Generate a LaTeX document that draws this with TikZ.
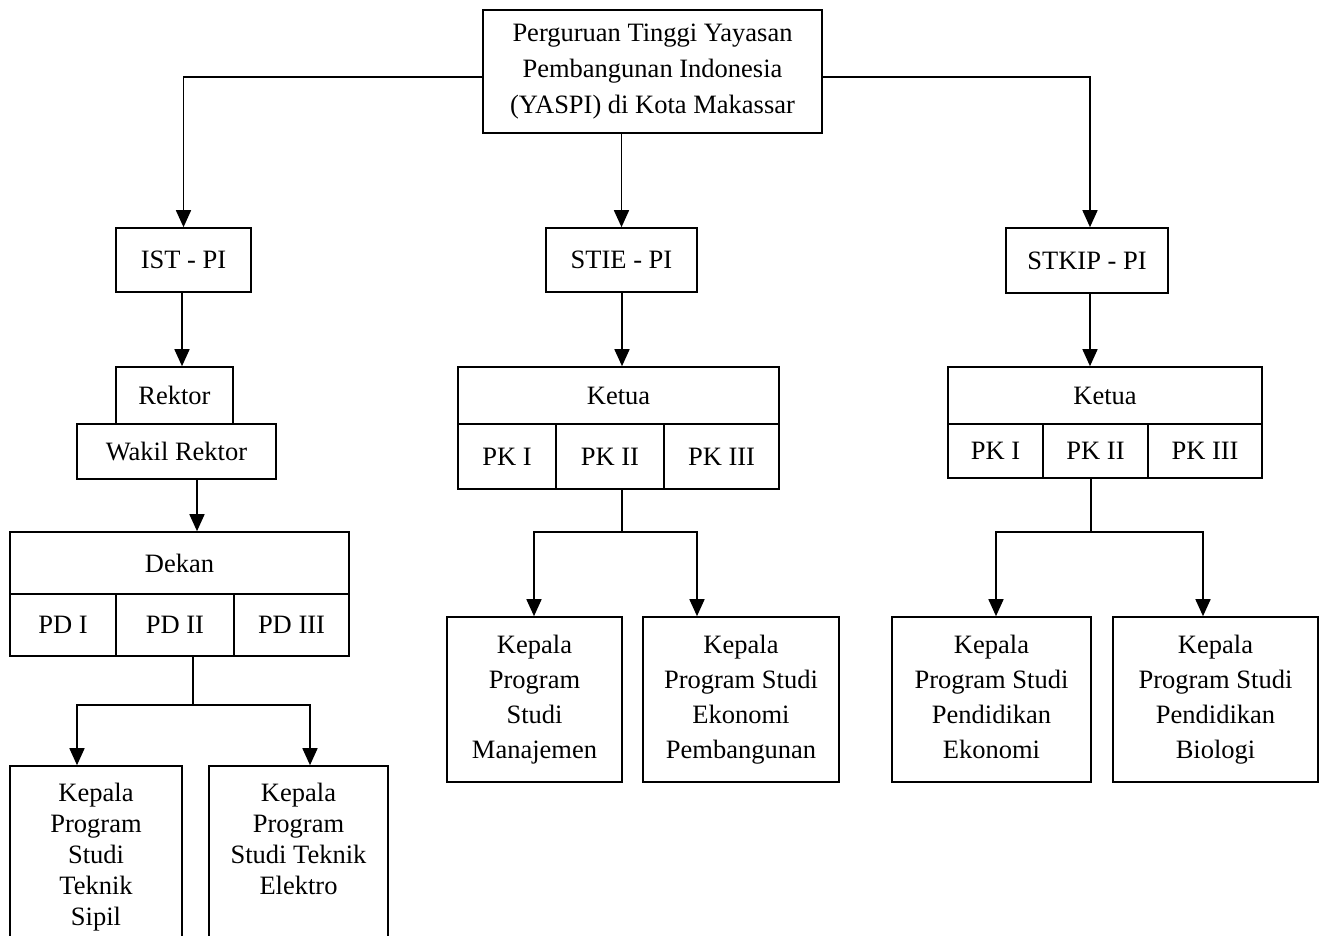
\documentclass[tikz,border=0pt]{standalone}
\usepackage{fontspec}
\setmainfont{Liberation Serif}
\usetikzlibrary{arrows.meta}
\tikzset{
  box/.style={draw, line width=1.6pt, inner sep=0pt, align=center,
    font=\fontsize{26.5}{35}\selectfont},
  tightbox/.style={box, font=\fontsize{26.5}{31}\selectfont},
  topbox/.style={box, font=\fontsize{26.5}{36}\selectfont},
  link/.style={line width=1.6pt},
  arr/.style={link, -{Triangle[length=17pt,width=15pt]}},
}
\begin{document}
\begin{tikzpicture}[x=1pt,y=-1pt]
\useasboundingbox (0,0) rectangle (1323,936);
% top
\node[topbox, minimum width=339, minimum height=123] (top) at (652.5,71.5)
  {Perguruan Tinggi Yayasan\\Pembangunan Indonesia\\(YASPI) di Kota Makassar};
% level 2
\node[box, minimum width=135, minimum height=64] (ist) at (183.5,260) {IST - PI};
\node[box, minimum width=151, minimum height=64] (stie) at (621.5,260) {STIE - PI};
\node[box, minimum width=162, minimum height=65] (stkip) at (1087,260.5) {STKIP - PI};
% left column
\node[box, minimum width=117, minimum height=57] (rektor) at (174.5,395.5) {Rektor};
\node[box, minimum width=199, minimum height=55] (wakil) at (176.5,451.5) {Wakil Rektor};
\node[box, minimum width=339, minimum height=62] (dekan) at (179.5,563) {Dekan};
\node[box, minimum width=106, minimum height=62] (pd1) at (63,625) {PD I};
\node[box, minimum width=118, minimum height=62] (pd2) at (175,625) {PD II};
\node[box, minimum width=115, minimum height=62] (pd3) at (291.5,625) {PD III};
\node[tightbox, minimum width=172, minimum height=182] (sipil) at (96,857)
  {Kepala\\Program\\Studi\\Teknik\\Sipil};
\node[tightbox, minimum width=179, minimum height=176] (elektro) at (298.5,854)
  {Kepala\\Program\\Studi Teknik\\Elektro\\\mbox{}};
% middle column
\node[box, minimum width=321, minimum height=57] (ketuaA) at (618.5,395.5) {Ketua};
\node[box, minimum width=98, minimum height=65] (pkA1) at (507,456.5) {PK I};
\node[box, minimum width=108, minimum height=65] (pkA2) at (610,456.5) {PK II};
\node[box, minimum width=115, minimum height=65] (pkA3) at (721.5,456.5) {PK III};
\node[box, minimum width=175, minimum height=165] (man) at (534.5,699.5)
  {Kepala\\Program\\Studi\\Manajemen};
\node[box, minimum width=196, minimum height=165] (ekp) at (741,699.5)
  {Kepala\\Program Studi\\Ekonomi\\Pembangunan};
% right column
\node[box, minimum width=314, minimum height=57] (ketuaB) at (1105,395.5) {Ketua};
\node[box, minimum width=95, minimum height=54] (pkB1) at (995.5,451) {PK I};
\node[box, minimum width=105, minimum height=54] (pkB2) at (1095.5,451) {PK II};
\node[box, minimum width=114, minimum height=54] (pkB3) at (1205,451) {PK III};
\node[box, minimum width=199, minimum height=165] (pe) at (991.5,699.5)
  {Kepala\\Program Studi\\Pendidikan\\Ekonomi\vphantom{g}};
\node[box, minimum width=205, minimum height=165] (pb) at (1215.5,699.5)
  {Kepala\\Program Studi\\Pendidikan\\Biologi};
% junction coordinates
\coordinate (jL) at (193,705);
\coordinate (jM) at (622,532);
\coordinate (jR) at (1091,532);
% connectors from top
\draw[arr] ([yshift=-5.5pt]top.west) -| (ist.north);
\draw[arr] ([yshift=-5.5pt]top.east) -| ([xshift=3pt]stkip.north);
\draw[arr] (stie.north |- top.south) -- (stie.north);
% left column
\draw[arr] ([xshift=-1.5pt]ist.south) -- ([xshift=-1.5pt]ist.south |- rektor.north);
\draw[arr] ([xshift=20.5pt]wakil.south) -- ([xshift=20.5pt]wakil.south |- dekan.north);
\draw[link] (pd2.south -| jL) -- (jL);
\draw[arr] (jL) -| ([xshift=-19pt]sipil.north);
\draw[arr] (jL) -| ([xshift=11.5pt]elektro.north);
% middle column
\draw[arr] ([xshift=0.5pt]stie.south) -- ([xshift=0.5pt]stie.south |- ketuaA.north);
\draw[link] (pkA2.south -| jM) -- (jM);
\draw[arr] (jM) -| ([xshift=-0.5pt]man.north);
\draw[arr] (jM) -| ([xshift=-44pt]ekp.north);
% right column
\draw[arr] ([xshift=3pt]stkip.south) -- ([xshift=3pt]stkip.south |- ketuaB.north);
\draw[link] (pkB2.south -| jR) -- (jR);
\draw[arr] (jR) -| ([xshift=4.5pt]pe.north);
\draw[arr] (jR) -| ([xshift=-12.5pt]pb.north);
\end{tikzpicture}
\end{document}
